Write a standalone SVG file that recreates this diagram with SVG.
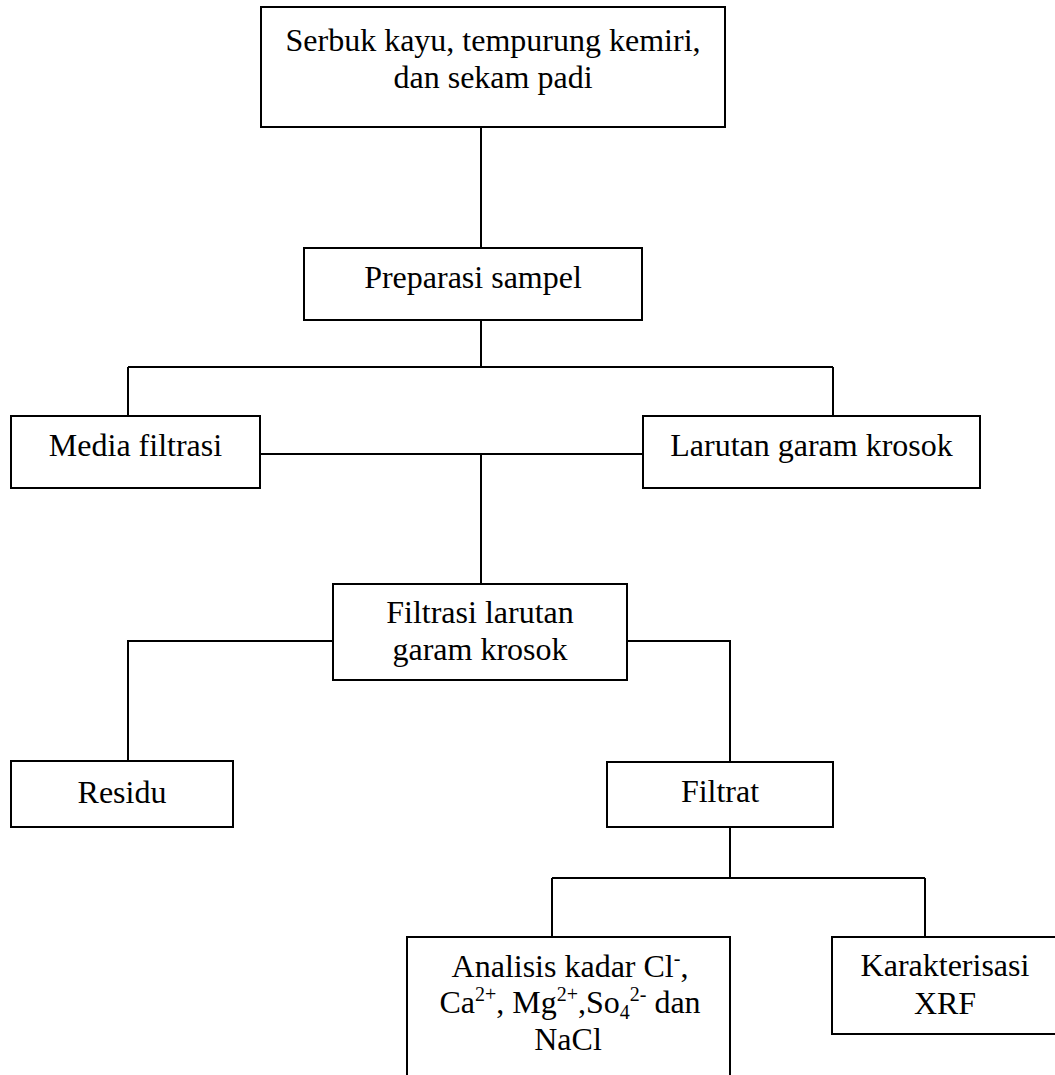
<svg xmlns="http://www.w3.org/2000/svg" width="1055" height="1075" viewBox="0 0 1055 1075">
<style>
.box{fill:#fff;stroke:#000;stroke-width:2}
.ln{fill:none;stroke:#000;stroke-width:2}
text{font-family:"Liberation Serif","Times New Roman",serif;font-size:32px;fill:#000;text-anchor:middle}
.sup{font-size:20px}
</style>
<rect width="1055" height="1075" fill="#fff"/>
<g id="connectors">
<path class="ln" d="M481 127V248"/>
<path class="ln" d="M481 320V367M128 367H833M128 367V416M833 367V416"/>
<path class="ln" d="M260 454H643M481 454V584"/>
<path class="ln" d="M333 641H128V761M627 641H730V762"/>
<path class="ln" d="M730 827V878M552 878H925M552 878V937M925 878V937"/>
</g>
<g id="n1"><rect class="box" x="261" y="7" width="464" height="120"/>
<text x="493" y="51">Serbuk kayu, tempurung kemiri,</text>
<text x="493" y="88">dan sekam padi</text></g>
<g id="n2"><rect class="box" x="304" y="248" width="338" height="72"/>
<text x="473" y="288">Preparasi sampel</text></g>
<g id="n3"><rect class="box" x="11" y="416" width="249" height="72"/>
<text x="135.5" y="456">Media filtrasi</text></g>
<g id="n4"><rect class="box" x="643" y="416" width="337" height="72"/>
<text x="811.5" y="456">Larutan garam krosok</text></g>
<g id="n5"><rect class="box" x="333" y="584" width="294" height="96"/>
<text x="480" y="623">Filtrasi larutan</text>
<text x="480" y="660">garam krosok</text></g>
<g id="n6"><rect class="box" x="11" y="761" width="222" height="66"/>
<text x="122" y="803">Residu</text></g>
<g id="n7"><rect class="box" x="607" y="762" width="226" height="65"/>
<text x="720" y="802">Filtrat</text></g>
<g id="n8"><rect class="box" x="407" y="937" width="323" height="160"/>
<text x="570" y="977">Analisis kadar Cl<tspan class="sup" dy="-12">-</tspan><tspan dy="12">,</tspan></text>
<text x="570" y="1013">Ca<tspan class="sup" dy="-12">2+</tspan><tspan dy="12">, Mg</tspan><tspan class="sup" dy="-12">2+</tspan><tspan dy="12">,So</tspan><tspan class="sup" dy="6">4</tspan><tspan class="sup" dy="-18">2-</tspan><tspan dy="12"> dan</tspan></text>
<text x="568" y="1050">NaCl</text></g>
<g id="n9"><rect class="box" x="832" y="937" width="226" height="97"/>
<text x="945" y="976">Karakterisasi</text>
<text x="945" y="1014">XRF</text></g>
</svg>
